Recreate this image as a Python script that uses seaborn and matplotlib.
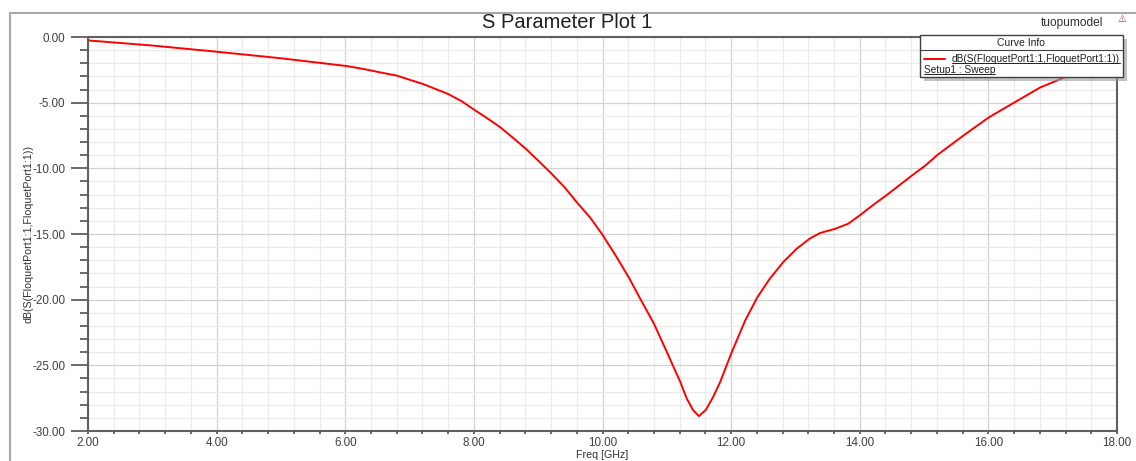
import seaborn as sns
import matplotlib.pyplot as plt
import pandas as pd
from matplotlib.ticker import MultipleLocator, FormatStrFormatter
from matplotlib.patches import Rectangle
from matplotlib.lines import Line2D

# values
freq = [2.0, 3.0, 4.0, 5.0, 6.02, 6.27, 6.54, 6.80, 7.21, 7.60, 7.81, 8.01, 8.20, 8.41,
        8.61, 8.81, 9.00, 9.21, 9.41, 9.60, 9.81, 10.0, 10.22, 10.41, 10.60, 10.80,
        11.00, 11.21, 11.31, 11.41, 11.50, 11.61, 11.72, 11.83, 11.93, 12.01, 12.22,
        12.41, 12.60, 12.81, 13.02, 13.22, 13.38, 13.62, 13.82, 14.02, 14.21, 14.41,
        14.61, 14.81, 15.02, 15.21, 15.61, 16.01, 16.41, 16.81, 17.19, 17.6, 18.0]
s11_db = [-0.26, -0.65, -1.12, -1.62, -2.21, -2.42, -2.69, -2.94, -3.58, -4.34, -4.89,
          -5.55, -6.16, -6.87, -7.68, -8.52, -9.41, -10.42, -11.44, -12.58, -13.76,
          -15.06, -16.76, -18.32, -20.05, -21.83, -23.98, -26.27, -27.53, -28.42, -28.87,
          -28.37, -27.41, -26.27, -25.0, -24.0, -21.57, -19.8, -18.41, -17.14, -16.12,
          -15.36, -14.93, -14.6, -14.22, -13.51, -12.78, -12.07, -11.31, -10.55, -9.79,
          -8.97, -7.51, -6.11, -4.97, -3.83, -3.07, -2.55, -2.1]

title = "S Parameter Plot 1"
trace_name = "dB(S(FloquetPort1:1,FloquetPort1:1))"
sweep_name = "Setup1 : Sweep"

df = pd.DataFrame({"Freq": freq, "dB": s11_db})

sns.set_style("white")
plt.rcParams['font.family'] = ['Liberation Sans', 'DejaVu Sans']

W, H = 1136, 461


def fx(px):
    return px / W


def fy(py):
    return 1 - py / H


fig = plt.figure(figsize=(W / 100, H / 100), dpi=100)
ax = fig.add_axes([fx(88), fy(431), (1117 - 88) / W, (431 - 37) / H])

sns.lineplot(data=df, x="Freq", y="dB", ax=ax, color="#ff0000", lw=1.4, legend=False)

ax.set_xlim(2, 18)
ax.set_ylim(-30, 0)
ax.xaxis.set_major_locator(MultipleLocator(2))
ax.xaxis.set_minor_locator(MultipleLocator(0.4))
ax.yaxis.set_major_locator(MultipleLocator(5))
ax.yaxis.set_minor_locator(MultipleLocator(1))
ax.xaxis.set_major_formatter(FormatStrFormatter("%.2f"))
ax.yaxis.set_major_formatter(FormatStrFormatter("%.2f"))
ax.set_axisbelow(True)
ax.grid(True, which='major', color='#d2d2d2', lw=0.9)
ax.grid(True, which='minor', color='#ebebeb', lw=0.9)

for s in ax.spines.values():
    s.set_color('#606060')
    s.set_linewidth(1.5)

ax.tick_params(axis='y', which='major', left=True, length=12, width=1.2, color='#505050',
               pad=4.5, labelsize=8.4, labelcolor='#404040')
ax.tick_params(axis='y', which='minor', left=True, length=6, width=1.2, color='#505050')
ax.tick_params(axis='x', which='both', bottom=True, length=2.5, width=1.2, color='#505050',
               pad=1.5, labelsize=8.4, labelcolor='#404040')

ax.set_xlabel("Freq [GHz]", fontsize=7.7, color='#303030')
ax.xaxis.set_label_coords(0.5, -(449.5 - 431) / 394)
ax.set_ylabel(trace_name, fontsize=7.7, color='#303030')
ax.yaxis.set_label_coords((34 - 88) / 1029, 0.5)

# outer window frame
fig.lines.append(Line2D([fx(10), fx(10)], [fy(13), 0], transform=fig.transFigure,
                        color='#a8a8a8', lw=1.5))
fig.lines.append(Line2D([fx(10), 1], [fy(13), fy(13)], transform=fig.transFigure,
                        color='#a8a8a8', lw=1.5))

fig.text(fx(567), fy(22), title, ha='center', va='center', fontsize=14.5, color='#202020')
fig.text(fx(1072), fy(23), "tuopumodel", ha='center', va='center', fontsize=8.6, color='#303030')
fig.text(fx(1122), fy(19), "\u26a0", ha='center', va='center', fontsize=7, color='#e02020',
         family=['DejaVu Sans'])

# curve info box
fig.patches.append(Rectangle((fx(924), fy(81)), (1127 - 924) / W, (81 - 39) / H,
                             transform=fig.transFigure, facecolor='#9a9a9a', edgecolor='none',
                             alpha=0.6, zorder=1))
fig.patches.append(Rectangle((fx(920), fy(77)), (1122.7 - 920) / W, (77 - 35) / H,
                             transform=fig.transFigure, facecolor='white', edgecolor='#404040',
                             lw=1, zorder=1.1))
fig.lines.append(Line2D([fx(920), fx(1122.7)], [fy(50), fy(50)], transform=fig.transFigure,
                        color='#404040', lw=0.8))
fig.lines.append(Line2D([fx(924), fx(945)], [fy(58.7), fy(58.7)], transform=fig.transFigure,
                        color='#ff0000', lw=1.4))
fig.text(fx(1021), fy(43), "Curve Info", ha='center', va='center', fontsize=7.5, color='#202020')
t1 = fig.text(fx(952), fy(58.7), trace_name, ha='left', va='center', fontsize=7.3, color='#202020')
t2 = fig.text(fx(924), fy(69.7), sweep_name, ha='left', va='center', fontsize=7.3, color='#202020')

# underline the legend entries
fig.canvas.draw()
for t in (t1, t2):
    bb = t.get_window_extent()
    y = (bb.y0 + 0.5) / H
    fig.lines.append(Line2D([bb.x0 / W, bb.x1 / W], [y, y], transform=fig.transFigure,
                            color='#202020', lw=0.7))

plt.savefig("out.png", dpi=100)
